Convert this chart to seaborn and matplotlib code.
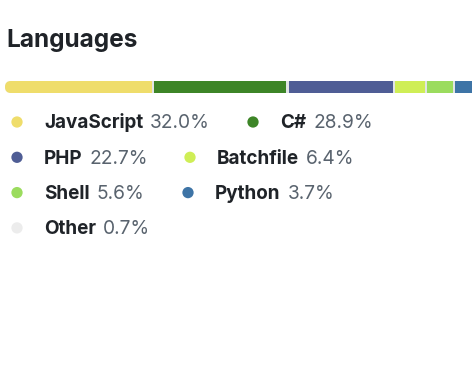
import numpy as np
import pandas as pd
import matplotlib
matplotlib.use("Agg")
import matplotlib.pyplot as plt
from matplotlib.patches import FancyBboxPatch
import seaborn as sns

# --- data -------------------------------------------------------------------
languages = ["JavaScript", "C#", "PHP", "Batchfile", "Shell", "Python", "Other"]
shares = [32.0, 28.9, 22.7, 6.4, 5.6, 3.7, 0.7]
colors = ["#efdd6b", "#3d8527", "#4f5d95", "#cfee56", "#9bdc5e", "#3e74a6", "#ececec"]

# legend layout (pixel coords of each dot, row index)
dot_x = [17, 253, 17, 190, 17, 188, 17]
row_of = [0, 0, 1, 1, 2, 2, 3]

sns.set_theme(style="white")
plt.rcParams["font.family"] = ["Inter", "DejaVu Sans"]

W, H = 472, 388
fig = plt.figure(figsize=(W / 100, H / 100), dpi=100)
fig.patch.set_facecolor("white")

# full-figure axes in pixel units for text + legend dots
ax = fig.add_axes([0, 0, 1, 1])
ax.set_xlim(0, W)
ax.set_ylim(H, 0)
ax.axis("off")

ax.text(6, 46.5, "Languages", fontsize=17.6, fontweight="bold", color="#1f2328",
        ha="left", va="baseline")

# --- stacked bar -------------------------------------------------------------
px_per_pct = 4.58
gap = 2.5 / px_per_pct
bar_top, bar_bot = 81, 93
span = 104.0
bax = fig.add_axes([5 / W, (H - bar_bot) / H, span * px_per_pct / W, (bar_bot - bar_top) / H])
bax.set_xlim(0, span)
bax.set_ylim(0, 1)
bax.axis("off")

lefts = np.cumsum([0] + shares[:-1]) + gap * np.arange(len(shares))
total = lefts[-1] + shares[-1]
bg = bax.barh(0.5, total, height=1, left=0, color="#e1e4e6", linewidth=0)
bars = bax.barh(0.5, shares, height=1, left=lefts, color=colors, linewidth=0)

r = 6 / px_per_pct
clip = FancyBboxPatch((0, 0), total, 1, boxstyle=f"round,pad=0,rounding_size={r}",
                      mutation_aspect=0.5 / r, transform=bax.transData,
                      facecolor="none", edgecolor="none")
bax.add_patch(clip)
for p in list(bg) + list(bars):
    p.set_clip_path(clip)

# --- legend ------------------------------------------------------------------
row_y0, row_step = 122, 35.3
df = pd.DataFrame({
    "lang": languages,
    "x": dot_x,
    "y": [row_y0 + row_step * r_ for r_ in row_of],
})
sns.scatterplot(data=df, x="x", y="y", hue="lang", palette=dict(zip(languages, colors)),
                s=66, linewidth=0, legend=False, ax=ax)
ax.set_xlim(0, W)
ax.set_ylim(H, 0)
ax.axis("off")

fig.canvas.draw()
renderer = fig.canvas.get_renderer()
inv = ax.transData.inverted()
for lang, share, x, y in zip(languages, shares, df["x"], df["y"]):
    t = ax.text(x + 27, y + 6.5, lang, fontsize=13.6, fontweight="bold", color="#1f2328",
                ha="left", va="baseline")
    bb = t.get_window_extent(renderer=renderer)
    x1 = inv.transform((bb.x1, 0))[0]
    ax.text(x1 + 7, y + 6.5, f"{share:.1f}%", fontsize=13.8, color="#59636e",
            ha="left", va="baseline")

fig.savefig("out.png", dpi=100, facecolor="white")
